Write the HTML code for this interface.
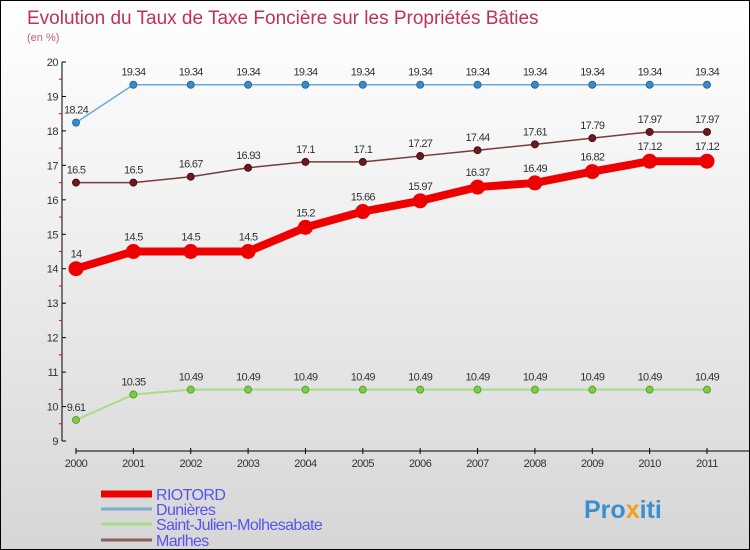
<!DOCTYPE html>
<html><head><meta charset="utf-8"><style>
body{margin:0}
#c{width:750px;height:550px;position:relative;box-sizing:border-box;border:1px solid #000;background:linear-gradient(#fff 0%,#f4f4f4 30%,#d6d6d6 100%);font-family:"Liberation Sans",sans-serif;overflow:hidden}
</style></head><body>
<div id="c">
<svg id="s" width="750" height="550" style="position:absolute;left:0;top:0">
<text x="26" y="23" font-size="19" fill="#c0305a">Evolution du Taux de Taxe Foncière sur les Propriétés Bâties</text>
<text x="26" y="40" font-size="11" fill="#c0607a">(en %)</text>
<g id="axes"></g><g id="series"></g><g id="legend"></g>
<text x="583" y="517" font-size="25" font-weight="bold" fill="#3a8fd0">Pro<tspan fill="#f0a020">x</tspan>iti</text>
</svg>
</div>
<script>
const years=[2000,2001,2002,2003,2004,2005,2006,2007,2008,2009,2010,2011];
const yTicks=[9,10,11,12,13,14,15,16,17,18,19,20];
const riotord=[14,14.5,14.5,14.5,15.2,15.66,15.97,16.37,16.49,16.82,17.12,17.12];
const dunieres=[18.24,19.34,19.34,19.34,19.34,19.34,19.34,19.34,19.34,19.34,19.34,19.34];
const saintJulien=[9.61,10.35,10.49,10.49,10.49,10.49,10.49,10.49,10.49,10.49,10.49,10.49];
const marlhes=[16.5,16.5,16.67,16.93,17.1,17.1,17.27,17.44,17.61,17.79,17.97,17.97];
const names=["RIOTORD","Dunières","Saint-Julien-Molhesabate","Marlhes"];
const NS="http://www.w3.org/2000/svg";
const X=i=>75+i*(706-75)/(years.length-1);
const Y=v=>61+(20-v)*(440-61)/11;
function mk(tag,at,par){const e=document.createElementNS(NS,tag);for(const k in at)e.setAttribute(k,at[k]);par.appendChild(e);return e;}
const ax=document.getElementById('axes');
let e=mk('line',{x1:61,y1:Y(20),x2:61,y2:Y(9),stroke:'#000'},ax);


yTicks.forEach(v=>{
 mk('line',{x1:61,y1:Y(v),x2:65,y2:Y(v),stroke:'#000'},ax);
 if(v<20) mk('line',{x1:58,y1:Y(v+0.5),x2:61,y2:Y(v+0.5),stroke:'#e00000'},ax);
 const t=mk('text',{x:57,y:Y(v)+4,'font-size':11,fill:'#333','text-anchor':'end','letter-spacing':'-0.5'},ax);
 t.textContent=v;
 
 
});
e=mk('line',{x1:75,y1:450,x2:750,y2:450,stroke:'#000'},ax);


years.forEach((y,i)=>{
 mk('line',{x1:X(i),y1:447,x2:X(i),y2:453,stroke:'#000'},ax);
 const t=mk('text',{x:X(i),y:466,'font-size':11,fill:'#333','text-anchor':'middle','letter-spacing':'-0.5'},ax);
 t.textContent=y;
 
 
});
const sg=document.getElementById('series');
function series(data,color,w,r,fill,dstroke,name,lblOff){
 const g=mk('g',{},sg);
 
 
 mk('polyline',{points:data.map((v,i)=>X(i)+','+Y(v)).join(' '),fill:'none',stroke:color,'stroke-width':w,'stroke-linejoin':'round'},g);
 data.forEach((v,i)=>{
  const c=mk('circle',{cx:X(i),cy:Y(v),r:r,fill:fill,stroke:dstroke,'stroke-width':1},g);
  
  
  const t=mk('text',{x:X(i),y:Y(v)-lblOff,'font-size':11,fill:'#333','text-anchor':'middle','letter-spacing':'-0.7'},g);
  t.textContent=v;
  
  
 });
}
series(dunieres,'#6aa8d8',1.5,3.5,'#3a8ac8','#2a6aa0','dunieres-series',9);
series(saintJulien,'#a8dc88',2,3.5,'#7ccc44','#5aa030','saint-julien-series',9);
series(marlhes,'#7a3a3a',1.5,3.5,'#6a1a20','#4a1015','marlhes-series',9);
series(riotord,'#ee0000',8,7,'#ee0000','#ee0000','riotord-series',11);
const lg=document.getElementById('legend');
const lc=['#ee0000','#7aaccc','#a8dc88','#8a6060'],lw=[7,3,3,3],ly=[493,508,523,539];
names.forEach((n,i)=>{
 const g=mk('g',{},lg);
 
 
 mk('line',{x1:100,y1:ly[i],x2:151,y2:ly[i],stroke:lc[i],'stroke-width':lw[i]},g);
 const t=mk('text',{x:155,y:ly[i]+6,'font-size':16,fill:'#5555ee','letter-spacing':'-0.6'},g);
 t.textContent=n;
});
</script>
</body></html>
